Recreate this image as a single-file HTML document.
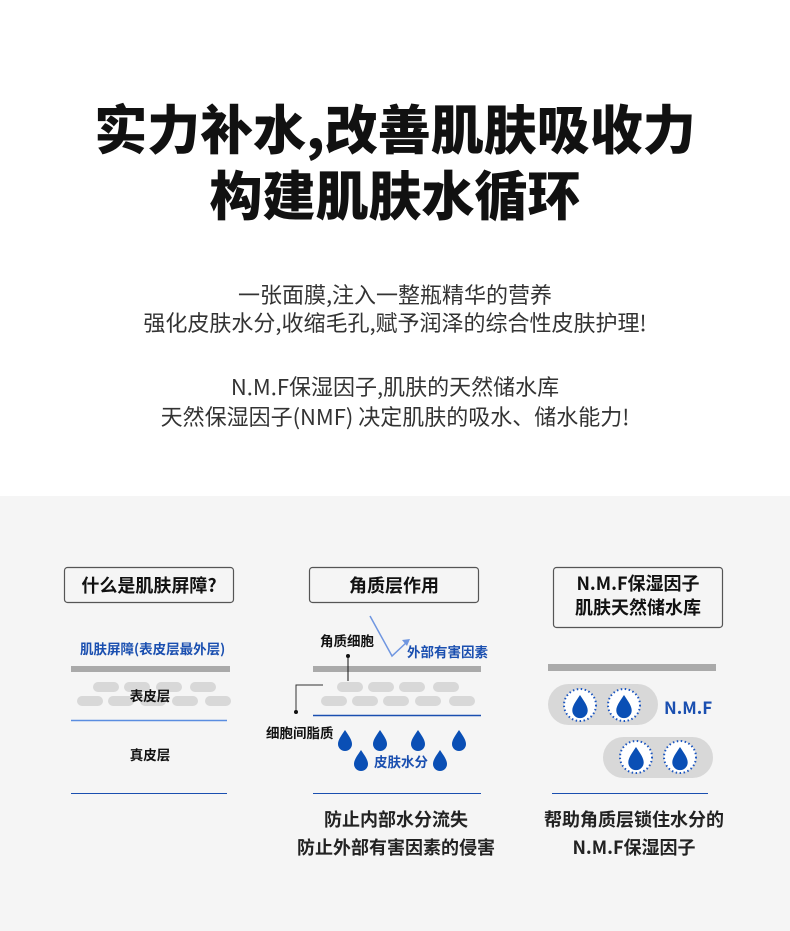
<!DOCTYPE html>
<html><head><meta charset="utf-8"><style>
body{margin:0;width:790px;height:931px;background:#fff;overflow:hidden;font-family:"Noto Sans CJK SC","Liberation Sans",sans-serif;}
.t{position:absolute;left:0;width:790px;text-align:center;white-space:nowrap;}
</style></head><body>
<div class="t" style="top:94px;font-size:53px;font-weight:900;color:#111;line-height:66px;">实力补水,改善肌肤吸收力</div>
<div class="t" style="top:160px;font-size:53px;font-weight:900;color:#111;line-height:66px;">构建肌肤水循环</div>
<div class="t" style="top:279px;font-size:22px;color:#333;line-height:30px;">一张面膜,注入一整瓶精华的营养</div>
<div class="t" style="top:307px;font-size:22px;color:#333;line-height:30px;">强化皮肤水分,收缩毛孔,赋予润泽的综合性皮肤护理!</div>
<div class="t" style="top:371px;font-size:22px;color:#333;line-height:30px;">N.M.F保湿因子,肌肤的天然储水库</div>
<div class="t" style="top:401px;font-size:22px;color:#333;line-height:30px;">天然保湿因子(NMF) 决定肌肤的吸水、储水能力!</div>
<svg style="position:absolute;left:0;top:0" width="790" height="931" font-family="Noto Sans CJK SC, Liberation Sans, sans-serif">
<defs>
<path id="dr" d="M0,-10 C4,-4 7,0 7,4 A7,7 0 0 1 -7,4 C-7,0 -4,-4 0,-10Z" fill="#0a4fb5"/>
<g id="dc"><circle r="16" fill="#fff" stroke="#1a55c0" stroke-width="2" stroke-dasharray="1.5 2.5"/><use href="#dr" transform="translate(0,1) scale(1.1)"/></g>
</defs>
<rect x="0" y="496" width="790" height="435" fill="#f5f5f5"/>
<g fill="none" stroke="#555" stroke-width="1.2">
<rect x="64.5" y="567.5" width="169" height="35" rx="3"/>
<rect x="309.5" y="567.5" width="169" height="35" rx="3"/>
<rect x="553.5" y="567.5" width="169" height="60" rx="3"/>
</g>
<g font-weight="700" fill="#111" font-size="18" text-anchor="middle">
<text x="149" y="592">什么是肌肤屏障?</text>
<text x="394" y="592">角质层作用</text>
<text x="638" y="590">N.M.F保湿因子</text>
<text x="638" y="614">肌肤天然储水库</text>
</g>
<!-- left -->
<text x="80" y="654" font-size="13.5" font-weight="700" fill="#1a4fb0">肌肤屏障(表皮层最外层)</text>
<rect x="71" y="666" width="159" height="6" fill="#aaa"/>
<g fill="#d8d8d8">
<rect x="93" y="682" width="26" height="10" rx="5"/><rect x="124" y="682" width="26" height="10" rx="5"/><rect x="156" y="682" width="26" height="10" rx="5"/><rect x="190" y="682" width="26" height="10" rx="5"/>
<rect x="77" y="696" width="26" height="10" rx="5"/><rect x="108" y="696" width="26" height="10" rx="5"/><rect x="140" y="696" width="26" height="10" rx="5"/><rect x="172" y="696" width="26" height="10" rx="5"/><rect x="205" y="696" width="26" height="10" rx="5"/>
</g>
<text x="150" y="701" font-size="13.5" font-weight="700" fill="#111" text-anchor="middle">表皮层</text>
<line x1="71" y1="720.5" x2="227" y2="720.5" stroke="#5a8de0" stroke-width="1.5"/>
<text x="150" y="760" font-size="13.5" font-weight="700" fill="#111" text-anchor="middle">真皮层</text>
<line x1="71" y1="793.5" x2="227" y2="793.5" stroke="#1a4fb0" stroke-width="1"/>
<!-- middle -->
<polyline points="370,616 392,656 408,641" fill="none" stroke="#6f96e0" stroke-width="1.5"/>
<polygon points="410,639 402,640 407,646" fill="#6f96e0"/>
<text x="320" y="646" font-size="13.5" font-weight="700" fill="#111">角质细胞</text>
<text x="407" y="657" font-size="13.5" font-weight="700" fill="#1a4fb0">外部有害因素</text>
<rect x="313" y="666" width="168" height="6" fill="#aaa"/>
<circle cx="348" cy="656" r="2" fill="#111"/><line x1="348" y1="656" x2="348" y2="681" stroke="#111"/>
<g fill="#d8d8d8">
<rect x="337" y="682" width="26" height="10" rx="5"/><rect x="368" y="682" width="26" height="10" rx="5"/><rect x="399" y="682" width="26" height="10" rx="5"/><rect x="433" y="682" width="26" height="10" rx="5"/>
<rect x="321" y="696" width="26" height="10" rx="5"/><rect x="352" y="696" width="26" height="10" rx="5"/><rect x="383" y="696" width="26" height="10" rx="5"/><rect x="415" y="696" width="26" height="10" rx="5"/><rect x="449" y="696" width="26" height="10" rx="5"/>
</g>
<polyline points="323,685 296,685 296,712" fill="none" stroke="#333"/>
<circle cx="296" cy="712" r="2" fill="#111"/>
<line x1="313" y1="715.5" x2="481" y2="715.5" stroke="#1a4fb0" stroke-width="1.5"/>
<text x="266" y="738" font-size="13.5" font-weight="700" fill="#111">细胞间脂质</text>
<use href="#dr" transform="translate(345,740)"/><use href="#dr" transform="translate(380,740)"/><use href="#dr" transform="translate(418,740)"/><use href="#dr" transform="translate(459,740)"/>
<use href="#dr" transform="translate(361,760)"/><use href="#dr" transform="translate(440,760)"/>
<text x="374" y="767" font-size="13.5" font-weight="700" fill="#1a4fb0">皮肤水分</text>
<line x1="313" y1="793.5" x2="481" y2="793.5" stroke="#1a4fb0" stroke-width="1"/>
<!-- right -->
<rect x="548" y="664" width="168" height="7" fill="#aaa"/>
<rect x="548" y="684" width="110" height="41" rx="20.5" fill="#d8d8d8"/>
<rect x="603" y="737" width="110" height="41" rx="20.5" fill="#d8d8d8"/>
<use href="#dc" transform="translate(580,705)"/><use href="#dc" transform="translate(624,705)"/>
<use href="#dc" transform="translate(636,757)"/><use href="#dc" transform="translate(680,757)"/>
<text x="664" y="714" font-size="17" font-weight="700" fill="#1a4fb0">N.M.F</text>
<line x1="552" y1="793.5" x2="708" y2="793.5" stroke="#1a4fb0" stroke-width="1"/>
<g font-weight="700" fill="#222" font-size="18" text-anchor="middle">
<text x="396" y="826">防止内部水分流失</text>
<text x="396" y="854">防止外部有害因素的侵害</text>
<text x="634" y="826">帮助角质层锁住水分的</text>
<text x="634" y="854">N.M.F保湿因子</text>
</g>
</svg>
</body></html>
